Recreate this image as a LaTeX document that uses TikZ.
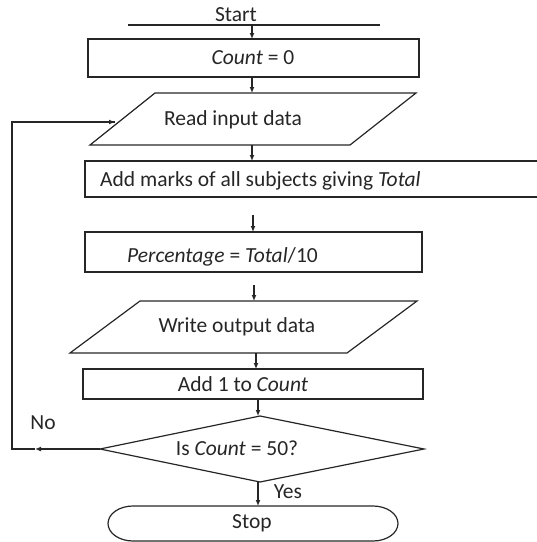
\documentclass[tikz,border=0pt]{standalone}
\usepackage{fontspec}
\setmainfont{Carlito}
\usetikzlibrary{arrows.meta}
\begin{document}
\begin{tikzpicture}[x=1pt,y=-1pt,
  line/.style={draw=black!85,line width=1.2pt},
  arr/.style={line,-{Latex[length=6pt,width=5pt]}},
  txt/.style={font=\fontsize{21.5}{24}\selectfont,inner sep=0pt,text=black!85}]
\useasboundingbox (0,0) rectangle (537,542);
% Start
\node[txt,anchor=base] (start) at (236,21) {Start};
\coordinate (sl) at (128,25); \coordinate (sr) at (380,25);
\draw[line] (sl) -- (sr);
\coordinate (s0) at (252,25);
% Count = 0
\draw[line] (88,39) rectangle (419,77);
\node[txt] (count) at (253,58) {\textit{Count} = 0};
\coordinate (c1) at (252,39); \coordinate (c2) at (252,77);
% Read
\draw[line] (155,93) -- (416,93) -- (350,145) -- (90,145) -- cycle;
\node[txt] (read) at (233,120) {Read input data};
\coordinate (r1) at (252,93); \coordinate (r2) at (252,145); \coordinate (rl) at (115,122);
% Add marks
\draw[line] (540,161) -- (85,161) -- (85,197) -- (540,197);
\node[txt,anchor=west] (marks) at (100,181) {Add marks of all subjects giving \textit{Total}};
\coordinate (m1) at (252,161);
\coordinate (a1) at (253,215); \coordinate (a2) at (253,232);
% Percentage
\draw[line] (85,232) rectangle (422,272);
\node[txt,anchor=west] (perc) at (127,257) {\textit{Percentage} = \textit{Total}/10};
\coordinate (p1) at (254,285); \coordinate (p2) at (254,301);
% Write
\draw[line] (140,301) -- (417,301) -- (347,353) -- (70,353) -- cycle;
\node[txt] (write) at (237,327) {Write output data};
\coordinate (w2) at (256,353); \coordinate (d0) at (256,369);
% Add 1
\draw[line] (83,369) rectangle (423,399);
\node[txt] (add1) at (243,384) {Add 1 to \textit{Count}};
\coordinate (e2) at (258,399);
% Decision
\draw[line] (260,416) -- (424,449) -- (260,482) -- (100,449) -- cycle;
\node[txt] (dec) at (237,448) {Is \textit{Count} = 50?};
\coordinate (dt) at (258,416); \coordinate (db) at (258,482); \coordinate (dl) at (100,449);
\coordinate (na) at (35,449); \coordinate (nc) at (12,449); \coordinate (nu) at (12,122);
\node[txt] (no) at (43,423) {No};
\node[txt] (yes) at (288,492) {Yes};
% Stop
\draw[line] (133,506) -- (373,506) arc[start angle=90,end angle=-90,x radius=25pt,y radius=17.5pt]
  -- (133,541) arc[start angle=270,end angle=90,x radius=25pt,y radius=17.5pt] -- cycle;
\node[txt] (stop) at (252,523) {Stop};
\coordinate (st) at (258,506);
% connectors
\draw[arr] (s0) -- (c1);
\draw[arr] (c2) -- (r1);
\draw[arr] (r2) -- (m1);
\draw[arr] (a1) -- (a2);
\draw[arr] (p1) -- (p2);
\draw[arr] (w2) -- (d0);
\draw[arr] (e2) -- (dt);
\draw[arr] (db) -- (st);
\draw[arr] (dl) -- (na);
\draw[line] (na) -- (nc) -- (nu) -- (rl);
\draw[arr] (nu) -- (rl);
\end{tikzpicture}
\end{document}
